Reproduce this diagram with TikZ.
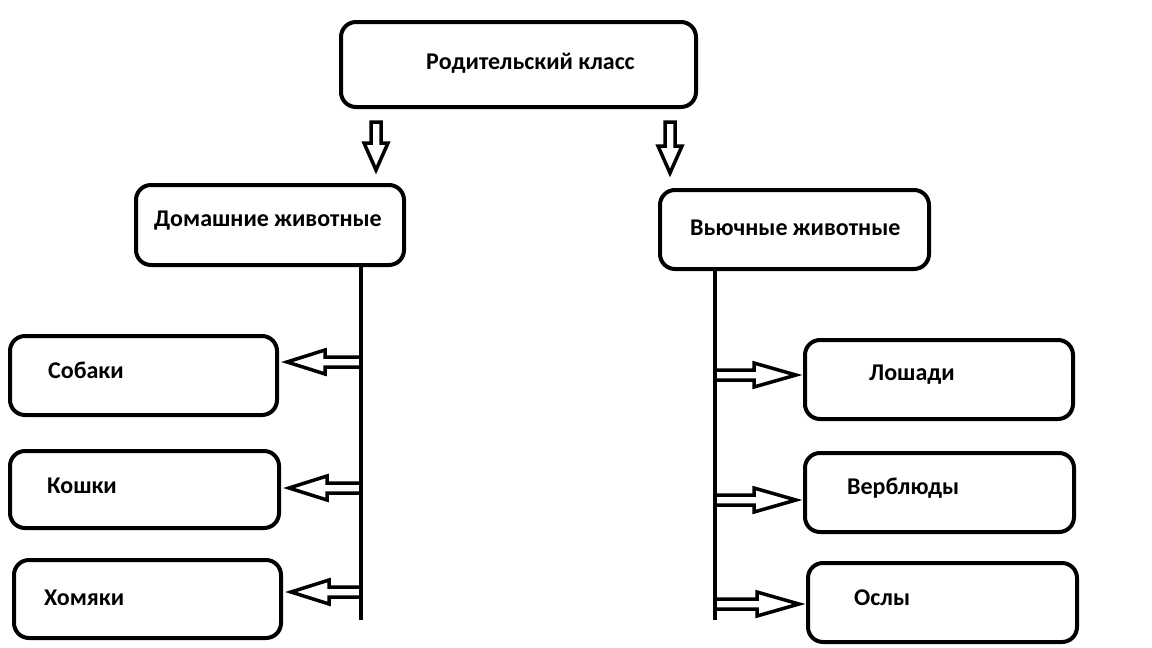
\documentclass[tikz,border=0pt]{standalone}
\usepackage{fontspec}
\setmainfont{Carlito}
\usetikzlibrary{calc}

\tikzset{
    box/.style={draw, line width=4pt, rounded corners=15pt, inner sep=0pt},
    lbl/.style={font=\bfseries\fontsize{24}{28}\selectfont, inner sep=0pt, anchor=mid west},
    trunk/.style={line width=4pt},
    hollow/.style={line width=3.5pt, line join=miter, miter limit=20, to path={
        ($(\tikztostart)!5pt!90:(\tikztotarget)$)
        -- ($(\tikztotarget)!#1!(\tikztostart)!5pt!90:(\tikztotarget)$)
        -- ($(\tikztotarget)!#1!(\tikztostart)!12pt!90:(\tikztotarget)$)
        -- (\tikztotarget)
        -- ($(\tikztotarget)!#1!(\tikztostart)!12pt!-90:(\tikztotarget)$)
        -- ($(\tikztotarget)!#1!(\tikztostart)!5pt!-90:(\tikztotarget)$)
        -- ($(\tikztostart)!5pt!-90:(\tikztotarget)$) -- cycle}},
    hollow/.default=38pt
}

\begin{document}
\begin{tikzpicture}[x=1pt, y=-1pt]
    \useasboundingbox (0,0) rectangle (1152,648);

    % boxes
    \node[box, minimum width=355pt, minimum height=85pt] (parent) at (518.5,64.5) {};
    \node[box, minimum width=268pt, minimum height=80pt] (dom) at (270,225) {};
    \node[box, minimum width=269pt, minimum height=79pt] (vyu) at (794.5,229.5) {};
    \node[box, minimum width=267pt, minimum height=79pt] (sob) at (143.5,375.5) {};
    \node[box, minimum width=269pt, minimum height=77pt] (kosh) at (144.5,489.5) {};
    \node[box, minimum width=267pt, minimum height=78pt] (hom) at (147.5,599) {};
    \node[box, minimum width=268pt, minimum height=79pt] (losh) at (939,379.5) {};
    \node[box, minimum width=269pt, minimum height=79pt] (verb) at (939.5,492.5) {};
    \node[box, minimum width=269pt, minimum height=79pt] (osl) at (942.5,602.5) {};

    % labels
    \node[lbl] (parentlbl) at ([xshift=87pt,yshift=-3pt]parent.west) {Родительский класс};
    \node[lbl] (domlbl) at ([xshift=20pt,yshift=1pt]dom.west) {Домашние животные};
    \node[lbl] (vyulbl) at ([xshift=32pt,yshift=-4pt]vyu.west) {Вьючные животные};
    \node[lbl] (soblbl) at ([xshift=40pt,yshift=-1pt]sob.west) {Собаки};
    \node[lbl] (koshlbl) at ([xshift=39pt,yshift=-2pt]kosh.west) {Кошки};
    \node[lbl] (homlbl) at ([xshift=32pt,yshift=-4pt]hom.west) {Хомяки};
    \node[lbl] (loshlbl) at ([xshift=66pt,yshift=1pt]losh.west) {Лошади};
    \node[lbl] (verblbl) at ([xshift=44pt]verb.west) {Верблюды};
    \node[lbl] (osllbl) at ([xshift=48pt,yshift=-1pt]osl.west) {Ослы};

    % trunks
    \coordinate (lend) at (361,620);
    \coordinate (rend) at (715,620);
    \draw[trunk] (dom.south -| lend) -- (lend);
    \draw[trunk] (vyu.south -| rend) -- (rend);

    % down arrows
    \coordinate (d1) at (376,122);
    \coordinate (d2) at (670,122);
    \coordinate (d1tip) at ([yshift=13pt]d1 |- dom.north);
    \coordinate (d2tip) at ([yshift=15pt]d2 |- vyu.north);
    \draw[hollow=27pt] (d1) to (d1tip);
    \draw[hollow=27pt] (d2) to (d2tip);

    % side arrows
    \foreach \name/\y in {sob/362, kosh/488, hom/592}{
        \coordinate (\name s) at (361,\y);
        \coordinate (\name t) at ([xshift=8pt]\name s -| \name.east);
        \draw[hollow] (\name s) to (\name t);
    }
    \foreach \name/\y in {losh/375, verb/500, osl/604}{
        \coordinate (\name s) at (715,\y);
        \coordinate (\name t) at ([xshift=-7pt]\name s -| \name.west);
        \draw[hollow=42pt] (\name s) to (\name t);
    }
\end{tikzpicture}
\end{document}
